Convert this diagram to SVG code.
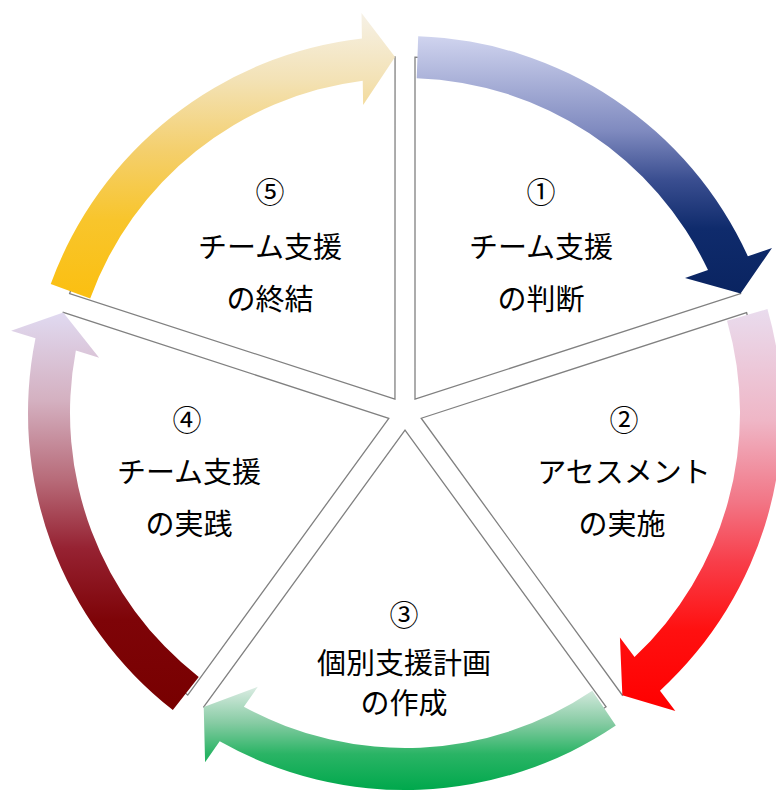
<svg xmlns="http://www.w3.org/2000/svg" width="776" height="791" viewBox="0 0 776 791">
<defs>
<style>
.sec{fill:#ffffff;stroke:#808080;stroke-width:1.3}
.lbl{font-family:"Noto Sans CJK JP","Noto Sans CJK SC",sans-serif;font-size:29px;fill:#000000;text-anchor:middle;dominant-baseline:central}
</style>
<path id="sec" d="M415 399.2 L415 57.1 A356 356 0 0 1 740.6 293.5 Z"/>
<linearGradient id="g1" gradientUnits="userSpaceOnUse" x1="0" y1="36" x2="0" y2="293">
<stop offset="0" stop-color="#d0d4ef"/><stop offset="0.37" stop-color="#7f8abf"/><stop offset="0.56" stop-color="#3a4e90"/><stop offset="0.75" stop-color="#0f2b6c"/><stop offset="1" stop-color="#0a2461"/>
</linearGradient>
<linearGradient id="g2" gradientUnits="userSpaceOnUse" x1="0" y1="308" x2="0" y2="711" gradientTransform="rotate(-72 405 413)">
<stop offset="0" stop-color="#e9dcee"/><stop offset="0.28" stop-color="#efb6c6"/><stop offset="0.48" stop-color="#f27686"/><stop offset="0.63" stop-color="#f83e4a"/><stop offset="0.8" stop-color="#ff1010"/><stop offset="1" stop-color="#ff0000"/>
</linearGradient>
<linearGradient id="g3" gradientUnits="userSpaceOnUse" x1="0" y1="687" x2="0" y2="790" gradientTransform="rotate(-144 405 413)">
<stop offset="0" stop-color="#dbece3"/><stop offset="0.35" stop-color="#86cba3"/><stop offset="0.65" stop-color="#2ab465"/><stop offset="1" stop-color="#00a84c"/>
</linearGradient>
<linearGradient id="g4" gradientUnits="userSpaceOnUse" x1="0" y1="314" x2="0" y2="711" gradientTransform="rotate(-216 405 413)">
<stop offset="0" stop-color="#e0d9f0"/><stop offset="0.22" stop-color="#d4b0c0"/><stop offset="0.42" stop-color="#b76a78"/><stop offset="0.59" stop-color="#962232"/><stop offset="0.77" stop-color="#7e0408"/><stop offset="1" stop-color="#780000"/>
</linearGradient>
<linearGradient id="g5" gradientUnits="userSpaceOnUse" x1="0" y1="13" x2="0" y2="300" gradientTransform="rotate(-288 405 413)">
<stop offset="0" stop-color="#f6f1e6"/><stop offset="0.23" stop-color="#f3e2b6"/><stop offset="0.48" stop-color="#f4cf6c"/><stop offset="0.72" stop-color="#f8c52c"/><stop offset="1" stop-color="#fbbf10"/>
</linearGradient>
</defs>
<rect x="0" y="0" width="776" height="791" fill="#ffffff"/>

<g id="step1">
<use href="#sec" class="sec"/>
<text class="lbl" x="541" y="190">①</text>
<text class="lbl" x="541" y="245">チーム支援</text>
<text class="lbl" x="541" y="297">の判断</text>
</g>
<g id="step2">
<use href="#sec" class="sec" transform="rotate(72 405 413)"/>
<text class="lbl" x="624" y="418">②</text>
<text class="lbl" x="624" y="470">アセスメント</text>
<text class="lbl" x="622" y="522">の実施</text>
</g>
<g id="step3">
<use href="#sec" class="sec" transform="rotate(144 405 413)"/>
<text class="lbl" x="404" y="613">③</text>
<text class="lbl" x="404" y="661">個別支援計画</text>
<text class="lbl" x="404" y="701">の作成</text>
</g>
<g id="step4">
<use href="#sec" class="sec" transform="rotate(216 405 413)"/>
<text class="lbl" x="187" y="418">④</text>
<text class="lbl" x="189" y="470">チーム支援</text>
<text class="lbl" x="189" y="522">の実践</text>
</g>
<g id="step5">
<use href="#sec" class="sec" transform="rotate(288 405 413)"/>
<text class="lbl" x="270" y="190">⑤</text>
<text class="lbl" x="270" y="245">チーム支援</text>
<text class="lbl" x="270" y="297">の終結</text>
</g>

<g id="connectors">
<path fill="url(#g1)" d="M418.2 36.2 A377 377 0 0 1 747.9 256.3 L772 248 L740.6 293.5 L685 278 L708 270.1 A335 335 0 0 0 416.7 78.2 Z"/>
<path fill="url(#g2)" transform="rotate(72 405 413)" d="M418.2 36.2 A377 377 0 0 1 747.9 256.3 L772 248 L740.6 293.5 L685 278 L708 270.1 A335 335 0 0 0 416.7 78.2 Z"/>
<path fill="url(#g3)" transform="rotate(144 405 413)" d="M418.2 36.2 A377 377 0 0 1 747.9 256.3 L772 248 L740.6 293.5 L685 278 L708 270.1 A335 335 0 0 0 416.7 78.2 Z"/>
<path fill="url(#g4)" transform="rotate(216 405 413)" d="M418.2 36.2 A377 377 0 0 1 747.9 256.3 L772 248 L740.6 293.5 L685 278 L708 270.1 A335 335 0 0 0 416.7 78.2 Z"/>
<path fill="url(#g5)" transform="rotate(288 405 413)" d="M418.2 36.2 A377 377 0 0 1 747.9 256.3 L772 248 L740.6 293.5 L685 278 L708 270.1 A335 335 0 0 0 416.7 78.2 Z"/>
</g>
</svg>
